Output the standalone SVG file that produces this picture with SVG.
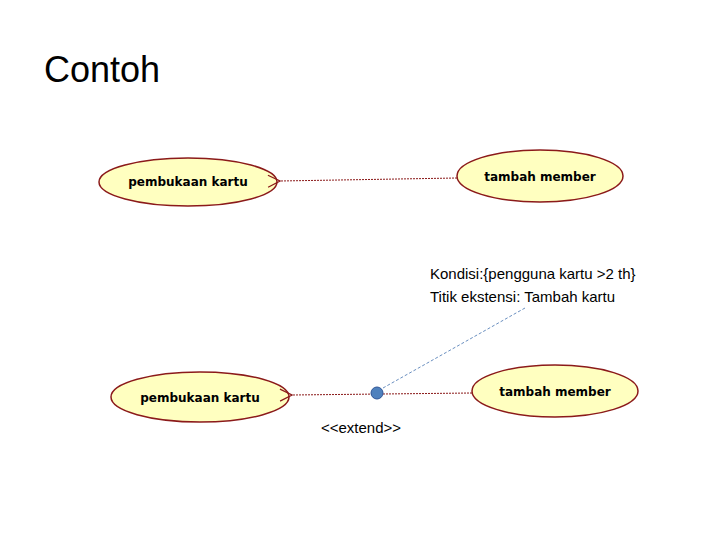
<svg xmlns="http://www.w3.org/2000/svg" width="720" height="540" viewBox="0 0 720 540">
<style>
.uc{fill:#ffffc0;stroke:#8b1a1a;stroke-width:1.5}
.ut{font-family:Verdana,"DejaVu Sans",sans-serif;font-size:12px;font-weight:bold;text-anchor:middle;fill:#000}
.dep{stroke:#8b1a1a;stroke-width:1;stroke-dasharray:2,1;fill:none}
.t{font-family:"Liberation Sans",Arial,sans-serif;font-size:15px;fill:#000}
</style>
<defs><marker id="ah" markerWidth="14" markerHeight="14" refX="1" refY="7" orient="auto" markerUnits="userSpaceOnUse"><path d="M13,1 L1,7 L13,13" fill="none" stroke="#8b1a1a" stroke-width="1.2"/></marker></defs>
<rect width="720" height="540" fill="#fff"/>
<text x="44" y="82" font-family="'Liberation Sans',Calibri,sans-serif" font-size="36" fill="#000">Contoh</text>
<g id="uc1"><ellipse class="uc" cx="188" cy="182" rx="89" ry="24"/><text class="ut" x="188" y="186">pembukaan kartu</text></g>
<g id="uc2"><ellipse class="uc" cx="540" cy="176" rx="83" ry="26"/><text class="ut" x="540" y="181">tambah member</text></g>
<g id="uc3"><ellipse class="uc" cx="200" cy="397" rx="89" ry="25"/><text class="ut" x="200" y="402">pembukaan kartu</text></g>
<g id="uc4"><ellipse class="uc" cx="555" cy="391" rx="83" ry="26"/><text class="ut" x="555" y="396">tambah member</text></g>
<g id="connectors">
<line class="dep" x1="457" y1="178" x2="280" y2="181" marker-end="url(#ah)"/>
<line class="dep" x1="472" y1="393" x2="292" y2="395" marker-end="url(#ah)"/>
<line x1="383" y1="388" x2="525" y2="308" stroke="#6a8fc0" stroke-width="1" stroke-dasharray="3,2"/>
<circle cx="377" cy="393" r="6" fill="#4f81bd" stroke="#2f5597" stroke-width="1"/>
</g>
<text class="t" x="430" y="279">Kondisi:{pengguna kartu &gt;2 th}</text>
<text class="t" x="430" y="302">Titik ekstensi: Tambah kartu</text>
<text class="t" x="321" y="433">&lt;&lt;extend&gt;&gt;</text>
</svg>
